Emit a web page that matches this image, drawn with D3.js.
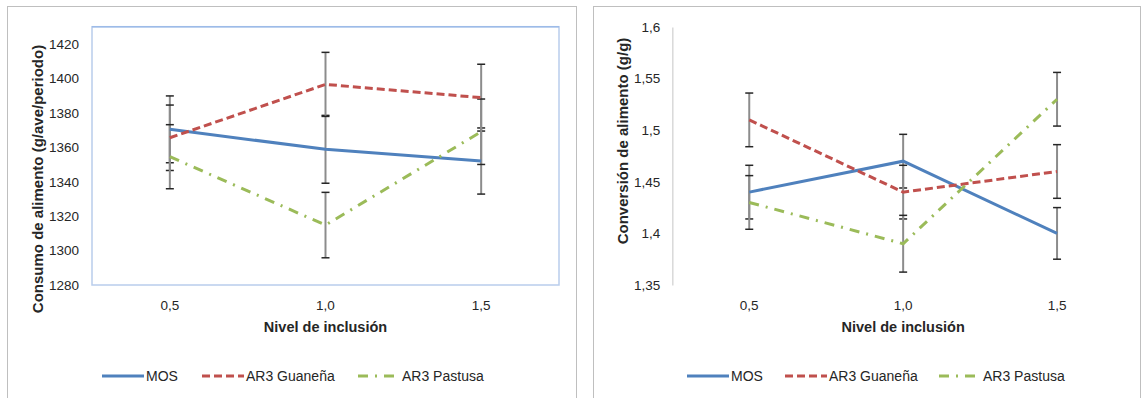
<!DOCTYPE html>
<html>
<head>
<meta charset="utf-8">
<script src="https://cdn.jsdelivr.net/npm/d3@7"></script>
<style>
  body { margin: 0; background: #fff; }
  svg { display: block; font-family: "Liberation Sans", Arial, sans-serif; }
</style>
</head>
<body>
<svg id="chart" width="1145" height="398"></svg>
<script>
const levels = ["0,5", "1,0", "1,5"];
const seriesNames = ["MOS", "AR3 Guaneña", "AR3 Pastusa"];

// Consumo de alimento (g/ave/periodo)
const consumoMOS = [1370.4, 1358.8, 1352.0];
const consumoGuanena = [1365.5, 1396.5, 1388.8];
const consumoPastusa = [1354.5, 1314.8, 1369.0];
const consumoErrMOS = [19.4, 19.7, 19.2];
const consumoErrGuanena = [19.0, 18.6, 19.4];
const consumoErrPastusa = [18.6, 19.0, 19.0];
const consumoTicks = [1280, 1300, 1320, 1340, 1360, 1380, 1400, 1420];

// Conversión de alimento (g/g)
const conversionMOS = [1.44, 1.47, 1.40];
const conversionGuanena = [1.51, 1.44, 1.46];
const conversionPastusa = [1.43, 1.39, 1.53];
const conversionErrMOS = [0.026, 0.026, 0.025];
const conversionErrGuanena = [0.026, 0.026, 0.026];
const conversionErrPastusa = [0.026, 0.0275, 0.026];
const conversionTicks = [1.35, 1.4, 1.45, 1.5, 1.55, 1.6];

const seriesStyle = [
    { color: "#4f81bd", dash: null },
    { color: "#c0504d", dash: "8,4" },
    { color: "#9bbb59", dash: "10,7,2,7" }
];

const es = d3.formatLocale({ decimal: ",", thousands: ".", grouping: [3], currency: ["", "€"] });
const fmt = es.format("~g");

const svg = d3.select("#chart");
svg.append("rect").attr("width", 1145).attr("height", 398).attr("fill", "#fff");

function drawPanel(cfg) {
    const g = svg.append("g");

    // outer frame of the chart
    g.append("rect")
        .attr("x", cfg.frame[0] + 0.5).attr("y", cfg.frame[1] + 0.5)
        .attr("width", cfg.frame[2]).attr("height", cfg.frame[3])
        .attr("fill", "none").attr("stroke", "#bfbfbf");

    const x = d3.scaleBand()
        .domain(levels)
        .range([cfg.left, cfg.right]);

    const y = d3.scaleLinear()
        .domain(cfg.domain)
        .range([cfg.bottom, cfg.top]);

    const cx = d => x(d) + x.bandwidth() / 2;

    if (cfg.plotBorder) {
        g.append("rect")
            .attr("x", cfg.left).attr("y", cfg.top)
            .attr("width", cfg.right - cfg.left).attr("height", cfg.bottom - cfg.top)
            .attr("fill", "none").attr("stroke", "#b9cdec").attr("stroke-width", 1.5);
        g.append("line")
            .attr("x1", cfg.left).attr("x2", cfg.right)
            .attr("y1", cfg.top).attr("y2", cfg.top)
            .attr("stroke", "#9dbbe8").attr("stroke-width", 1.5);
    }

    const yAxis = g.append("g")
        .attr("transform", `translate(${cfg.left},0)`)
        .call(d3.axisLeft(y).tickValues(cfg.ticks).tickFormat(fmt).tickSize(0).tickPadding(cfg.tickPad));
    yAxis.select(".domain").attr("stroke", cfg.axisLine ? "#d9d9d9" : "none").attr("stroke-width", 1.5);
    yAxis.selectAll("text").attr("font-size", 13.5).attr("fill", "#262626")
        .attr("font-family", "Liberation Sans, Arial, sans-serif");

    const xAxis = g.append("g")
        .attr("transform", `translate(0,${cfg.bottom})`)
        .call(d3.axisBottom(x).tickSize(0).tickPadding(15));
    xAxis.select(".domain").remove();
    xAxis.selectAll("text").attr("font-size", 13.5).attr("fill", "#262626")
        .attr("font-family", "Liberation Sans, Arial, sans-serif");

    g.append("text")
        .attr("transform", `translate(${cfg.yTitleX},${cfg.yTitleY}) rotate(-90)`)
        .attr("text-anchor", "middle").attr("dominant-baseline", "central")
        .attr("font-size", 15).attr("font-weight", "bold").attr("fill", "#262626")
        .text(cfg.yTitle);

    g.append("text")
        .attr("x", (cfg.left + cfg.right) / 2).attr("y", 332)
        .attr("text-anchor", "middle")
        .attr("font-size", 14.5).attr("font-weight", "bold").attr("fill", "#262626")
        .text("Nivel de inclusión");

    const series = seriesNames.map((name, i) => ({
        name,
        style: seriesStyle[i],
        points: levels.map((lv, j) => ({ lv, v: cfg.values[i][j], e: cfg.errors[i][j] }))
    }));

    // error bars
    const bars = g.append("g");
    series.forEach(s => {
        s.points.forEach(p => {
            const xp = cx(p.lv);
            bars.append("line")
                .attr("x1", xp).attr("x2", xp)
                .attr("y1", y(p.v + p.e)).attr("y2", y(p.v - p.e))
                .attr("stroke", "#8c8c8c").attr("stroke-width", 2);
            [p.v + p.e, p.v - p.e].forEach(c => {
                bars.append("line")
                    .attr("x1", xp - 4).attr("x2", xp + 4)
                    .attr("y1", y(c)).attr("y2", y(c))
                    .attr("stroke", "#262626").attr("stroke-width", 1.5);
            });
        });
    });

    const line = d3.line()
        .x(p => cx(p.lv))
        .y(p => y(p.v));

    g.selectAll(".serie")
        .data(series)
        .join("path")
        .attr("class", "serie")
        .attr("fill", "none")
        .attr("stroke", s => s.style.color)
        .attr("stroke-width", 3)
        .attr("stroke-dasharray", s => s.style.dash)
        .attr("d", s => line(s.points));

    // legend
    const legend = g.append("g");
    series.forEach((s, i) => {
        const lx = cfg.legendX[i];
        legend.append("line")
            .attr("x1", lx).attr("x2", lx + 42)
            .attr("y1", 376).attr("y2", 376)
            .attr("stroke", s.style.color).attr("stroke-width", 3)
            .attr("stroke-dasharray", s.style.dash);
        legend.append("text")
            .attr("x", lx + 44).attr("y", 376)
            .attr("dominant-baseline", "central")
            .attr("font-size", 14).attr("fill", "#262626")
            .text(s.name);
    });
}

drawPanel({
    frame: [7, 6, 569, 400],
    left: 92, right: 559, top: 26.7, bottom: 285,
    domain: [1280, 1430],
    ticks: consumoTicks,
    tickPad: 13,
    plotBorder: true, axisLine: false,
    yTitle: "Consumo de alimento (g/ave/periodo)",
    yTitleX: 37, yTitleY: 179,
    values: [consumoMOS, consumoGuanena, consumoPastusa],
    errors: [consumoErrMOS, consumoErrGuanena, consumoErrPastusa],
    legendX: [102, 202, 358]
});

drawPanel({
    frame: [593, 6, 547, 400],
    left: 672.3, right: 1134, top: 27, bottom: 285,
    domain: [1.35, 1.6],
    ticks: conversionTicks,
    tickPad: 12,
    plotBorder: false, axisLine: true,
    yTitle: "Conversión de alimento (g/g)",
    yTitleX: 622, yTitleY: 141,
    values: [conversionMOS, conversionGuanena, conversionPastusa],
    errors: [conversionErrMOS, conversionErrGuanena, conversionErrPastusa],
    legendX: [687, 785, 939]
});
</script>
</body>
</html>
